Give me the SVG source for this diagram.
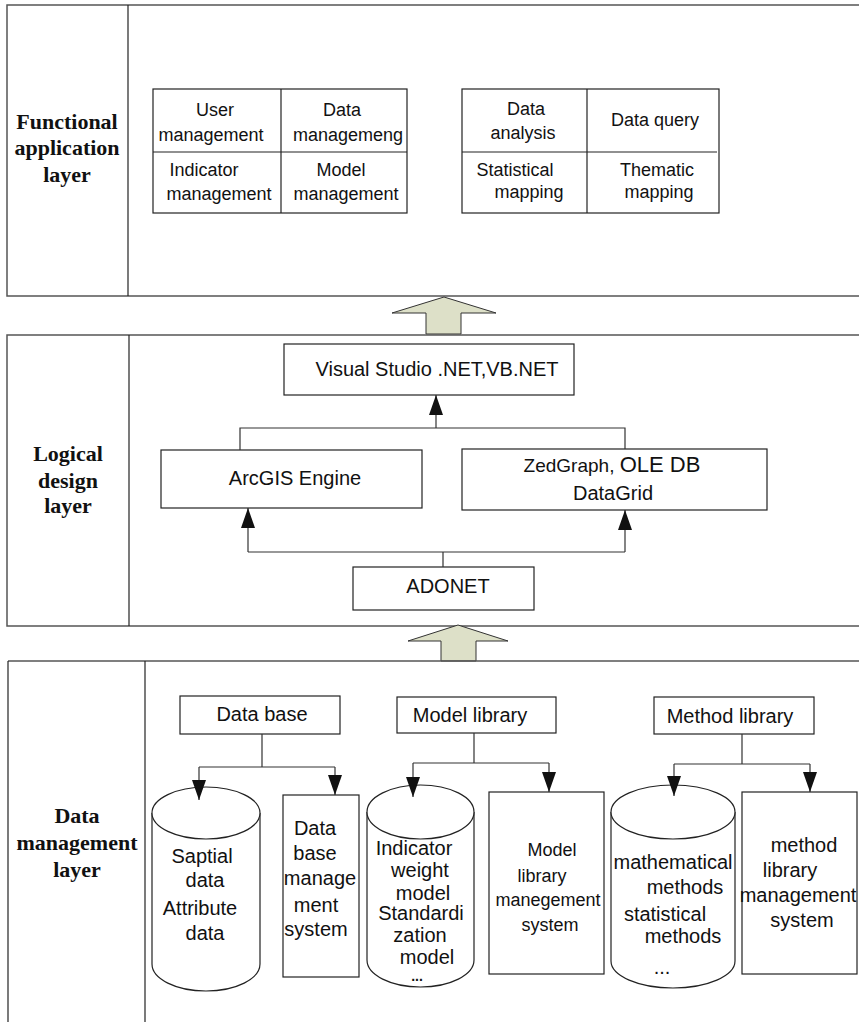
<svg xmlns="http://www.w3.org/2000/svg" width="859" height="1022" viewBox="0 0 859 1022">
<style>
.layer{fill:none;stroke:#555;stroke-width:1.5}
.col{fill:none;stroke:#222;stroke-width:1.2}
.box{fill:#fff;stroke:#222;stroke-width:1.2}
.cell{fill:none;stroke:#222;stroke-width:1.2}
.big{fill:#dde0c8;stroke:#333;stroke-width:1}
.conn{fill:none;stroke:#333;stroke-width:1.2}
.t{font-family:"Liberation Sans",Arial,sans-serif;font-size:20px;fill:#111;text-anchor:middle}
.s{font-size:18px}
.lbl{font-family:"Liberation Serif","Times New Roman",serif;font-weight:bold;font-size:22px;fill:#111;text-anchor:middle}
</style>
<defs>
<marker id="ah" viewBox="0 0 20 14" refX="20" refY="7" markerWidth="20" markerHeight="14" markerUnits="userSpaceOnUse" orient="auto">
<path d="M0,0 L20,7 L0,14 Z" fill="#111"/>
</marker>
</defs>

<g id="layer-functional">
<rect class="layer" x="7" y="5" width="900" height="291"/>
<line class="col" x1="128" y1="5" x2="128" y2="296"/>
<text class="lbl"><tspan x="67" y="129">Functional</tspan><tspan x="67" y="155">application</tspan><tspan x="67" y="182">layer</tspan></text>
</g>

<g id="table-management">
<rect class="cell" x="153" y="89" width="254" height="124"/>
<line class="cell" x1="281" y1="89" x2="281" y2="213"/>
<line class="cell" x1="153" y1="152" x2="407" y2="152"/>
<text class="t s"><tspan x="215" y="116">User</tspan><tspan x="211" y="141">management</tspan></text>
<text class="t s"><tspan x="342" y="116">Data</tspan><tspan x="348" y="141">managemeng</tspan></text>
<text class="t s"><tspan x="204" y="176">Indicator</tspan><tspan x="219" y="200">management</tspan></text>
<text class="t s"><tspan x="341" y="176">Model</tspan><tspan x="346" y="200">management</tspan></text>
</g>

<g id="table-analysis">
<rect class="cell" x="462" y="89" width="257" height="124"/>
<line class="cell" x1="587" y1="89" x2="587" y2="213"/>
<line class="cell" x1="462" y1="152" x2="717" y2="152"/>
<text class="t s"><tspan x="526" y="115">Data</tspan><tspan x="523" y="139">analysis</tspan></text>
<text class="t s" x="655" y="126">Data query</text>
<text class="t s"><tspan x="515" y="176">Statistical</tspan><tspan x="529" y="198">mapping</tspan></text>
<text class="t s"><tspan x="657" y="176">Thematic</tspan><tspan x="659" y="198">mapping</tspan></text>
</g>

<g id="big-arrow-1">
<path class="big" d="M444,297 L496,313 L461,313 L461,334 L426,334 L426,313 L392,313 Z"/>
</g>

<g id="layer-logical">
<rect class="layer" x="7" y="335" width="900" height="291"/>
<line class="col" x1="129" y1="335" x2="129" y2="626"/>
<text class="lbl"><tspan x="68" y="461">Logical</tspan><tspan x="68" y="488">design</tspan><tspan x="68" y="513">layer</tspan></text>
</g>

<g id="node-vs">
<rect class="box" x="284" y="344" width="290" height="51"/>
<text class="t" x="437" y="376">Visual Studio .NET,VB.NET</text>
</g>
<g id="node-arcgis">
<rect class="box" x="161" y="450" width="261" height="58"/>
<text class="t" x="295" y="485">ArcGIS Engine</text>
</g>
<g id="node-zedgraph">
<rect class="box" x="462" y="449" width="305" height="61"/>
<text class="t" x="612" y="472"><tspan font-size="19">ZedGraph, </tspan><tspan font-size="22">OLE DB</tspan></text>
<text class="t" x="613" y="500" font-size="22">DataGrid</text>
</g>
<g id="node-adonet">
<rect class="box" x="353" y="567" width="181" height="43"/>
<text class="t" x="448" y="593">ADONET</text>
</g>

<g id="big-arrow-2">
<path class="big" d="M458,625 L508,641 L476,641 L476,661 L441,661 L441,641 L408,641 Z"/>
</g>

<g id="layer-data">
<line class="layer" x1="8" y1="661" x2="859" y2="661"/>
<line class="col" x1="8" y1="661" x2="8" y2="1022"/>
<line class="col" x1="145" y1="661" x2="145" y2="1022"/>
<text class="lbl"><tspan x="77" y="823">Data</tspan><tspan x="77" y="850">management</tspan><tspan x="77" y="877">layer</tspan></text>
</g>

<g id="node-database">
<rect class="box" x="180" y="696" width="160" height="38"/>
<text class="t" x="262" y="721">Data base</text>
</g>
<g id="node-model-library">
<rect class="box" x="397" y="697" width="159" height="36"/>
<text class="t" x="470" y="722">Model library</text>
</g>
<g id="node-method-library">
<rect class="box" x="654" y="697" width="160" height="37"/>
<text class="t" x="730" y="723">Method library</text>
</g>

<g id="node-spatial-data">
<path class="box" d="M152,813 V964 A54,27 0 0 0 260,964 V813"/>
<ellipse class="box" cx="206" cy="813" rx="54" ry="26"/>
<text class="t"><tspan x="202" y="863">Saptial</tspan><tspan x="205" y="887">data</tspan><tspan x="200" y="915">Attribute</tspan><tspan x="205" y="940">data</tspan></text>
</g>
<g id="node-dbms">
<rect class="box" x="283" y="795" width="76" height="182"/>
<text class="t"><tspan x="315" y="835">Data</tspan><tspan x="315" y="860">base</tspan><tspan x="320" y="885">manage</tspan><tspan x="316" y="912">ment</tspan><tspan x="316" y="936">system</tspan></text>
</g>
<g id="node-models">
<path class="box" d="M367,812 V960 A53.5,27 0 0 0 474,960 V812"/>
<ellipse class="box" cx="420.5" cy="812" rx="53.5" ry="27"/>
<text class="t"><tspan x="414" y="855">Indicator</tspan><tspan x="420" y="877">weight</tspan><tspan x="423" y="900">model</tspan><tspan x="421" y="920">Standardi</tspan><tspan x="420" y="942">zation</tspan><tspan x="427" y="964">model</tspan><tspan x="417" y="981" font-size="14" font-weight="bold">...</tspan></text>
</g>
<g id="node-model-mgmt">
<rect class="box" x="489" y="792" width="115" height="182"/>
<text class="t s"><tspan x="552" y="856">Model</tspan><tspan x="542" y="882">library</tspan><tspan x="548" y="906">manegement</tspan><tspan x="550" y="931">system</tspan></text>
</g>
<g id="node-methods">
<path class="box" d="M611,812 V961 A62,27 0 0 0 735,961 V812"/>
<ellipse class="box" cx="673" cy="812" rx="62" ry="27"/>
<text class="t"><tspan x="673" y="869">mathematical</tspan><tspan x="685" y="894">methods</tspan><tspan x="665" y="921">statistical</tspan><tspan x="683" y="943">methods</tspan><tspan x="662" y="974">...</tspan></text>
</g>
<g id="node-method-mgmt">
<rect class="box" x="742" y="792" width="115" height="182"/>
<text class="t"><tspan x="804" y="852">method</tspan><tspan x="790" y="877">library</tspan><tspan x="798" y="902">management</tspan><tspan x="802" y="927">system</tspan></text>
</g>

<g id="connectors">
<path class="conn" d="M240,450 V428 H625 V449"/>
<path class="conn" d="M436,428 V395" marker-end="url(#ah)"/>
<path class="conn" d="M443,567 V552 M248,552 H625"/>
<path class="conn" d="M248,552 V508" marker-end="url(#ah)"/>
<path class="conn" d="M625,552 V510" marker-end="url(#ah)"/>
<path class="conn" d="M262,734 V767 M199,767 H335"/>
<path class="conn" d="M199,767 V800" marker-end="url(#ah)"/>
<path class="conn" d="M335,767 V795" marker-end="url(#ah)"/>
<path class="conn" d="M474,733 V763 M413,763 H549"/>
<path class="conn" d="M413,763 V797" marker-end="url(#ah)"/>
<path class="conn" d="M549,763 V792" marker-end="url(#ah)"/>
<path class="conn" d="M742,734 V764 M674,764 H810"/>
<path class="conn" d="M674,764 V796" marker-end="url(#ah)"/>
<path class="conn" d="M810,764 V792" marker-end="url(#ah)"/>
</g>
</svg>
